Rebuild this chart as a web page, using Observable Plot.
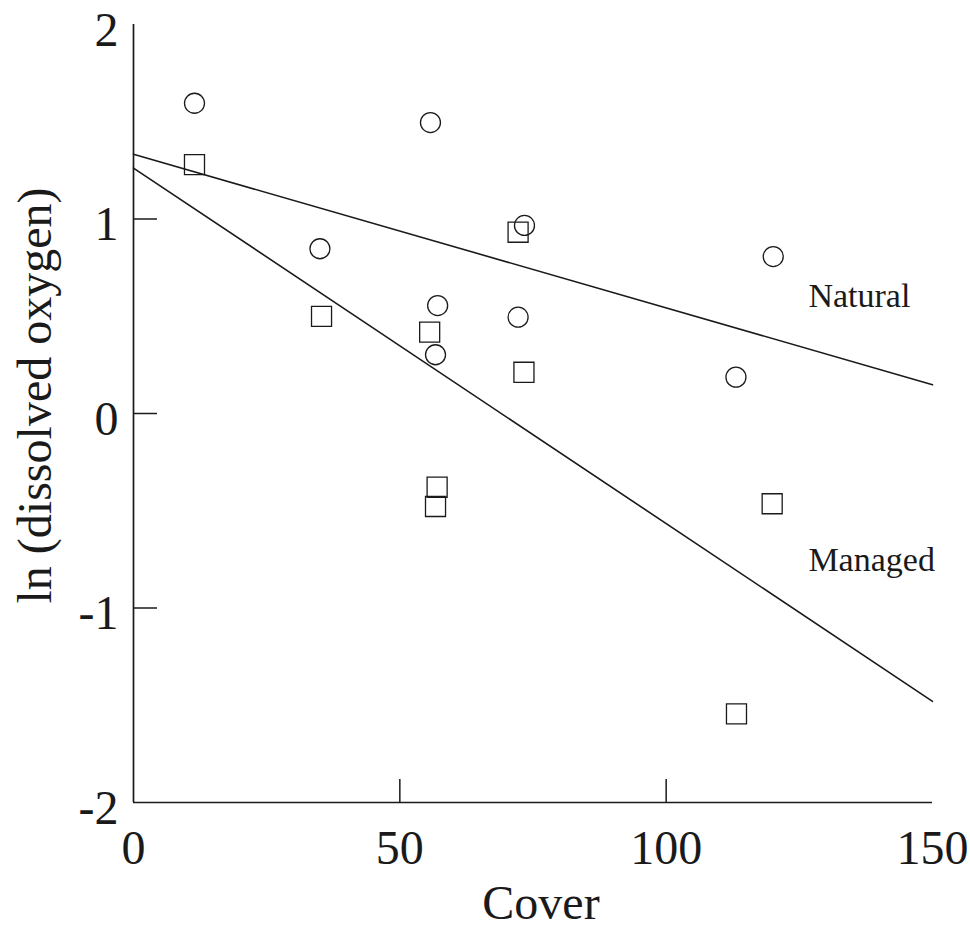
<!DOCTYPE html>
<html>
<head>
<meta charset="utf-8">
<script src="https://cdn.jsdelivr.net/npm/d3@7"></script>
<script src="https://cdn.jsdelivr.net/npm/@observablehq/plot@0.6"></script>
<style>
  html, body { margin: 0; padding: 0; background: #fff; }
</style>
</head>
<body>
<div id="chart"></div>
<script>
// Natural sites (circles)
const naturalCover = [11.45, 55.75, 35.0, 73.4, 57.1, 72.2, 56.7, 120.1, 113.1];
const naturalLnDO  = [1.595, 1.496, 0.847, 0.967, 0.555, 0.495, 0.302, 0.807, 0.187];
// Managed sites (squares)
const managedCover = [11.45, 72.2, 35.3, 55.6, 73.3, 57.0, 56.7, 119.9, 113.2];
const managedLnDO  = [1.280, 0.932, 0.499, 0.418, 0.212, -0.379, -0.478, -0.464, -1.544];
// Fitted regression lines (end points at cover 0 and 150)
const fitCover   = [0, 150];
const naturalFit = [1.333, 0.148];
const managedFit = [1.262, -1.480];
// Axes
const xDomain = [0, 150];
const yDomain = [-2, 2];
const xTicks = [0, 50, 100, 150];
const yTicks = [-2, -1, 0, 1, 2];
const xInnerTicks = [50, 100];
const yInnerTicks = [-1, 0, 1];
// Line labels
const labelNames = ["Natural", "Managed"];
const labelCover = [126.7, 126.7];
const labelLnDO  = [0.545, -0.812];

const naturalPts = naturalCover.map((x, i) => ({x, y: naturalLnDO[i]}));
const managedPts = managedCover.map((x, i) => ({x, y: managedLnDO[i]}));
const naturalLine = fitCover.map((x, i) => ({x, y: naturalFit[i]}));
const managedLine = fitCover.map((x, i) => ({x, y: managedFit[i]}));
const labels = labelNames.map((t, i) => ({t, x: labelCover[i], y: labelLnDO[i]}));

const W = 970, H = 928;
const mL = 133, mR = 38, mT = 24, mB = 126;
const plotW = W - mL - mR, plotH = H - mT - mB;
const serif = "'Liberation Serif', 'Times New Roman', Times, serif";
const ink = "#1a1a1a";

const chart = Plot.plot({
  width: W,
  height: H,
  marginLeft: mL,
  marginRight: mR,
  marginTop: mT,
  marginBottom: mB,
  style: {fontFamily: serif, color: ink, background: "#fff"},
  x: {domain: xDomain, axis: null},
  y: {domain: yDomain, axis: null},
  marks: [
    // axis lines
    Plot.ruleX([xDomain[0]], {stroke: ink, strokeWidth: 1.7}),
    Plot.ruleY([yDomain[0]], {stroke: ink, strokeWidth: 1.7}),
    // inward ticks
    Plot.ruleY(yInnerTicks, {stroke: ink, strokeWidth: 1.5, insetRight: plotW - 24}),
    Plot.ruleX(xInnerTicks, {stroke: ink, strokeWidth: 1.5, insetTop: plotH - 23}),
    // tick labels
    Plot.axisY(yTicks, {
      tickSize: 0, tickPadding: 15, fontSize: 48, fill: ink,
      tickFormat: d => String(d), label: null, dy: 6
    }),
    Plot.axisX(xTicks, {
      tickSize: 0, tickPadding: 27, fontSize: 48, fill: ink,
      tickFormat: d => String(d), label: null
    }),
    // axis titles
    Plot.text(["Cover"], {
      frameAnchor: "bottom", lineAnchor: "bottom", dy: 116, dx: 8,
      fontSize: 48, fill: ink
    }),
    Plot.text(["ln (dissolved oxygen)"], {
      frameAnchor: "left", rotate: -90, lineAnchor: "bottom", textAnchor: "middle",
      dx: -83, dy: -18, fontSize: 48, fill: ink
    }),
    // regression lines
    Plot.line(naturalLine, {x: "x", y: "y", stroke: ink, strokeWidth: 1.6}),
    Plot.line(managedLine, {x: "x", y: "y", stroke: ink, strokeWidth: 1.6}),
    // points
    Plot.dot(naturalPts, {x: "x", y: "y", symbol: "circle", r: 10, stroke: ink, strokeWidth: 1.3, fill: "none"}),
    Plot.dot(managedPts, {x: "x", y: "y", symbol: "square", r: 11.3, stroke: ink, strokeWidth: 1.3, fill: "none"}),
    // line labels
    Plot.text(labels, {
      x: "x", y: "y", text: "t", textAnchor: "start", lineAnchor: "bottom",
      fontSize: 34, fill: ink
    })
  ]
});
document.getElementById("chart").appendChild(chart);
</script>
</body>
</html>
